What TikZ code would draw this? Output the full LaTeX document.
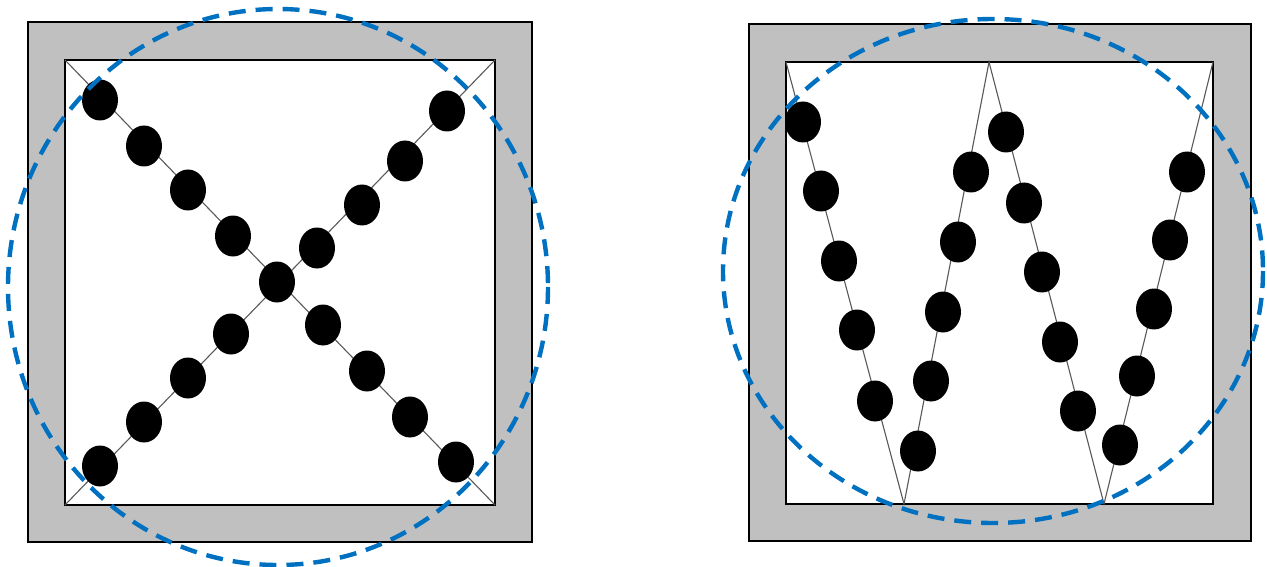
\documentclass[tikz,border=0pt]{standalone}
\usetikzlibrary{shapes.geometric}
\definecolor{frame}{HTML}{C0C0C0}
\definecolor{ring}{HTML}{0070C0}
\begin{document}
\begin{tikzpicture}[x=1pt,y=-1pt,
  wall/.style={draw=black,line width=1.8pt,fill=frame},
  hole/.style={draw=black,line width=1.8pt,fill=white},
  wire/.style={draw=black!65,line width=1.1pt},
  bead/.style={ellipse,fill=black,draw=none,minimum width=36pt,minimum height=41pt,inner sep=0pt},
  halo/.style={draw=ring,line width=4.4pt,dash pattern=on 17pt off 10pt}]
\useasboundingbox (0,0) rectangle (1267,567);
% ---------- left panel ----------
\coordinate (LO1) at (28,22); \coordinate (LO2) at (532,542);
\coordinate (LI1) at (65,60); \coordinate (LI2) at (495,505);
\coordinate (LI3) at (495,60); \coordinate (LI4) at (65,505);
\fill[wall] (LO1) rectangle (LO2);
\fill[hole] (LI1) rectangle (LI2);
\draw[wire] (LI1) -- (LI2);
\draw[wire] (LI3) -- (LI4);
\foreach \n/\x/\y in {a1/100/100,a2/144/146,a3/188/190,a4/233/236,c/277/282,a6/323/325,a7/367/371,a8/410/417,a9/456/462,
                      b1/447/111,b2/405/161,b3/362/205,b4/317/248,b6/231/334,b7/188/378,b8/144/422,b9/100/466}
  \node[bead] (L\n) at (\x,\y) {};
\coordinate (LC) at (278,287);
\draw[halo] (LC) ellipse [x radius=270, y radius=278];
% ---------- right panel ----------
\coordinate (RO1) at (749,24); \coordinate (RO2) at (1251,541);
\coordinate (RI1) at (786,62); \coordinate (RI2) at (1213,504);
\coordinate (W1) at (786,62); \coordinate (W2) at (904,504); \coordinate (W3) at (989,62);
\coordinate (W4) at (1104,504); \coordinate (W5) at (1213,62);
\fill[wall] (RO1) rectangle (RO2);
\fill[hole] (RI1) rectangle (RI2);
\draw[wire] (W1) -- (W2) -- (W3) -- (W4) -- (W5);
\foreach \n/\x/\y in {p1/803/122,p2/821/191,p3/839/261,p4/857/330,p5/875/401,
                      q1/918/451,q2/931/381,q3/943/312,q4/958/242,q5/971/172,
                      r1/1006/132,r2/1024/203,r3/1042/272,r4/1060/342,r5/1078/411,
                      s1/1120/445,s2/1137/376,s3/1154/309,s4/1170/240,s5/1187/172}
  \node[bead] (R\n) at (\x,\y) {};
\coordinate (RC) at (993,271);
\draw[halo] (RC) ellipse [x radius=270, y radius=252];
\end{tikzpicture}
\end{document}
